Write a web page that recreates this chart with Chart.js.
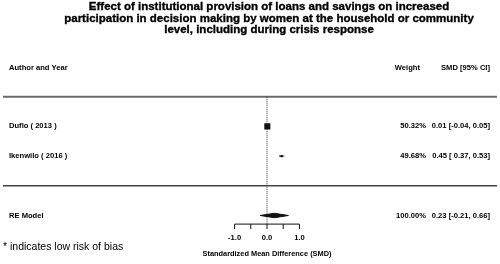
<!DOCTYPE html>
<html>
<head>
<meta charset="utf-8">
<script src="https://cdn.jsdelivr.net/npm/chart.js@4.4.1/dist/chart.umd.min.js"></script>
<style>
  html, body { margin: 0; padding: 0; background: #fff; }
  #wrap { width: 500px; height: 264px; position: relative; }
</style>
</head>
<body>
<div id="wrap"><canvas id="forest"></canvas></div>
<script>
const titleLines = [
  "Effect of institutional provision of loans and savings on increased",
  "participation in decision making by women at the household or community",
  "level, including during crisis response"
];
const studies = ["Duflo ( 2013 )", "Ikenwilo ( 2016 )"];
const smd = [0.01, 0.45];
const ciLow = [-0.04, 0.37];
const ciHigh = [0.05, 0.53];
const weights = [50.32, 49.68];
const pooledLabel = "RE Model";
const pooledSmd = [0.23];
const pooledLow = [-0.21];
const pooledHigh = [0.66];
const pooledWeight = [100.0];
const axisTicks = [-1, -0.5, 0, 0.5, 1];
const axisTickLabels = ["-1.0", "", "0.0", "", "1.0"];
const axisTitle = "Standardized Mean Difference (SMD)";
const footnote = "* indicates low risk of bias";

(() => {
  const W = 500, H = 264;
  const ZERO_PX = 267.3, PX_PER_UNIT = 33;
  const ROW0_PX = 95.5, ROW_PX = 30.7;
  const FONT = "'Liberation Sans', Arial, sans-serif";

  const reRow = studies.length + 2;
  const axisRow = reRow + 0.29;
  const markerRadius = [4.3, 1.5];

  function ciText(est, lo, hi) {
    const l = lo >= 0 ? " " + lo.toFixed(2) : lo.toFixed(2);
    return est.toFixed(2) + " [" + l + ", " + hi.toFixed(2) + "]";
  }

  const datasets = [];

  // dotted reference line at 0
  datasets.push({
    data: [{ x: 0, y: 0 }, { x: 0, y: axisRow }],
    showLine: true,
    borderColor: "#333",
    borderWidth: 1,
    borderDash: [1, 1],
    pointRadius: 0,
    order: 10,
  });

  studies.forEach((name, i) => {
    datasets.push({
      data: [{ x: ciLow[i], y: i + 1 }, { x: ciHigh[i], y: i + 1 }],
      showLine: true,
      borderColor: "#111",
      borderWidth: 1,
      pointRadius: 0,
      order: 5,
    });
    datasets.push({
      data: [{ x: smd[i], y: i + 1 }],
      pointStyle: "rect",
      pointRadius: markerRadius[i],
      backgroundColor: "#111",
      borderColor: "#111",
      borderWidth: 0,
      order: 1,
    });
  });

  // pooled diamond
  const dh = 0.075;
  datasets.push({
    data: [
      { x: pooledLow[0], y: reRow },
      { x: pooledSmd[0], y: reRow - dh },
      { x: pooledHigh[0], y: reRow },
      { x: pooledSmd[0], y: reRow + dh },
      { x: pooledLow[0], y: reRow },
    ],
    showLine: true,
    fill: "shape",
    backgroundColor: "#111",
    borderColor: "#111",
    borderWidth: 1,
    pointRadius: 0,
    tension: 0,
    order: 1,
  });

  const textPlugin = {
    id: "forestText",
    beforeDatasetsDraw(chart) {
      const { ctx, scales } = chart;
      const y = scales.y;
      ctx.save();
      ctx.strokeStyle = "#6a6a6a";
      ctx.lineWidth = 2;
      ctx.beginPath();
      ctx.moveTo(3, y.getPixelForValue(0));
      ctx.lineTo(497, y.getPixelForValue(0));
      ctx.stroke();
      ctx.strokeStyle = "#444";
      ctx.lineWidth = 1.5;
      ctx.beginPath();
      ctx.moveTo(3, y.getPixelForValue(studies.length + 1));
      ctx.lineTo(497, y.getPixelForValue(studies.length + 1));
      ctx.stroke();
      ctx.restore();
    },
    afterDatasetsDraw(chart) {
      const { ctx, scales } = chart;
      const x = scales.x, y = scales.y;
      ctx.save();
      ctx.fillStyle = "#000";
      ctx.strokeStyle = "#000";
      ctx.textBaseline = "middle";

      // title
      ctx.font = "bold 11.5px " + FONT;
      ctx.textAlign = "center";
      ctx.lineWidth = 0.35;
      titleLines.forEach((t, i) => {
        ctx.fillText(t, 269, 7 + i * 11.5);
        ctx.strokeText(t, 269, 7 + i * 11.5);
      });

      // headers
      ctx.font = "bold 7.6px " + FONT;
      const hy = y.getPixelForValue(-1) + 1;
      ctx.textAlign = "left";
      ctx.fillText("Author and Year", 9, hy);
      ctx.textAlign = "right";
      ctx.fillText("Weight", 420, hy);
      ctx.fillText("SMD [95% CI]", 490, hy);

      // rows
      studies.forEach((name, i) => {
        const ry = y.getPixelForValue(i + 1);
        ctx.textAlign = "left";
        ctx.fillText(name, 9, ry);
        ctx.textAlign = "right";
        ctx.fillText(weights[i].toFixed(2) + "%", 426, ry);
        ctx.fillText(ciText(smd[i], ciLow[i], ciHigh[i]), 490, ry);
      });
      const py = y.getPixelForValue(reRow);
      ctx.textAlign = "left";
      ctx.fillText(pooledLabel, 9, py);
      ctx.textAlign = "right";
      ctx.fillText(pooledWeight[0].toFixed(2) + "%", 426, py);
      ctx.fillText(ciText(pooledSmd[0], pooledLow[0], pooledHigh[0]), 490, py);

      // axis
      const ay = y.getPixelForValue(axisRow);
      ctx.strokeStyle = "#111";
      ctx.lineWidth = 1;
      ctx.beginPath();
      ctx.moveTo(x.getPixelForValue(axisTicks[0]), ay);
      ctx.lineTo(x.getPixelForValue(axisTicks[axisTicks.length - 1]), ay);
      axisTicks.forEach((t) => {
        const tx = x.getPixelForValue(t);
        ctx.moveTo(tx, ay);
        ctx.lineTo(tx, ay + 5);
      });
      ctx.stroke();
      ctx.textAlign = "center";
      ctx.font = "bold 7.6px " + FONT;
      axisTickLabels.forEach((lab, i) => {
        if (lab) ctx.fillText(lab, x.getPixelForValue(axisTicks[i]), ay + 13.5);
      });
      ctx.font = "bold 7.4px " + FONT;
      ctx.fillText(axisTitle, x.getPixelForValue(0), ay + 29.5);

      // footnote
      ctx.font = "10.5px " + FONT;
      ctx.textAlign = "left";
      ctx.fillText(footnote, 3, 247);
      ctx.restore();
    },
  };

  new Chart(document.getElementById("forest"), {
    type: "scatter",
    data: { datasets },
    options: {
      responsive: true,
      maintainAspectRatio: false,
      animation: false,
      layout: { padding: 0 },
      plugins: { legend: { display: false }, tooltip: { enabled: false } },
      scales: {
        x: {
          type: "linear",
          display: false,
          min: -ZERO_PX / PX_PER_UNIT,
          max: (W - ZERO_PX) / PX_PER_UNIT,
        },
        y: {
          type: "linear",
          display: false,
          reverse: true,
          min: -ROW0_PX / ROW_PX,
          max: (H - ROW0_PX) / ROW_PX,
        },
      },
    },
    plugins: [textPlugin],
  });
})();
</script>
</body>
</html>
